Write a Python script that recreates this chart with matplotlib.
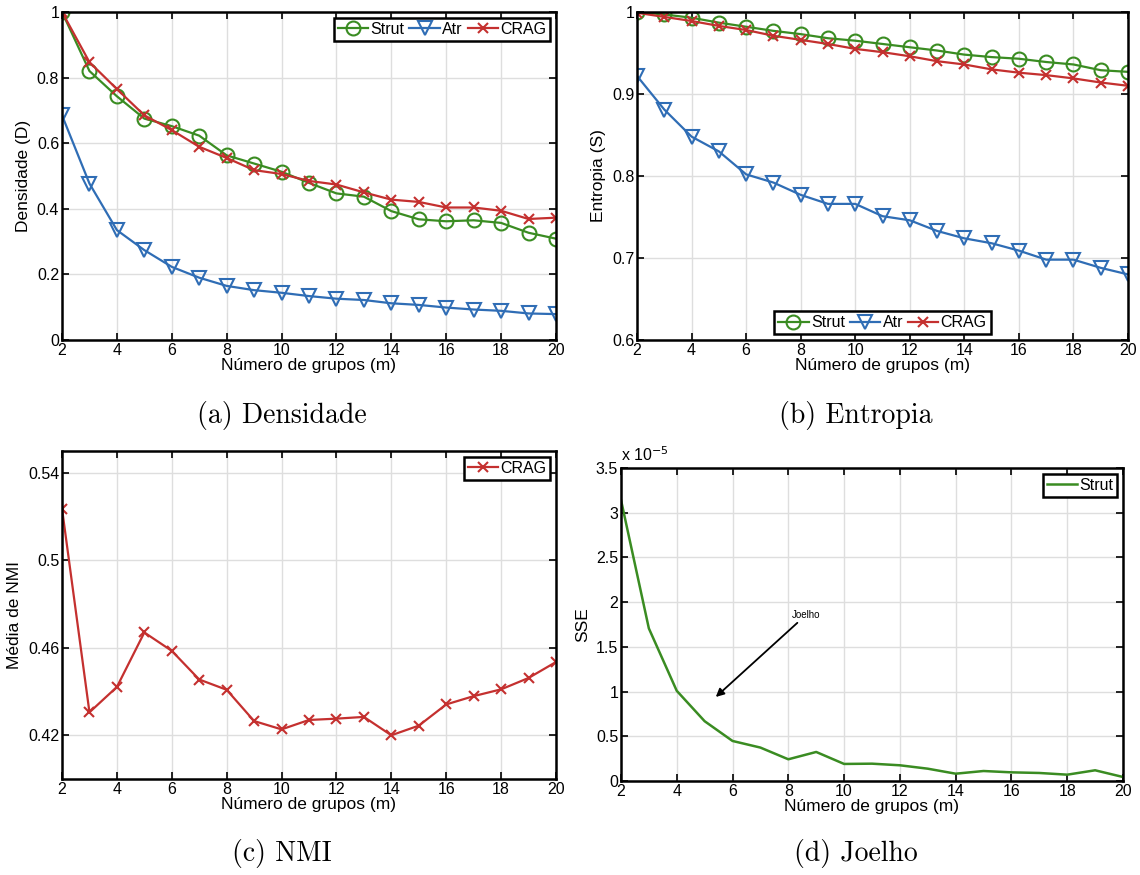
import numpy as np
import matplotlib.pyplot as plt
from matplotlib.ticker import FuncFormatter

plt.rcParams['font.family'] = ['Liberation Sans', 'DejaVu Sans']

m = np.arange(2, 21)

dens_strut = [1.0, 0.820, 0.743, 0.675, 0.652, 0.623, 0.563, 0.538, 0.513, 0.479,
              0.447, 0.437, 0.393, 0.368, 0.362, 0.365, 0.357, 0.327, 0.309]
dens_atr = [0.685, 0.477, 0.335, 0.274, 0.223, 0.190, 0.165, 0.152, 0.144, 0.134,
            0.126, 0.122, 0.112, 0.107, 0.099, 0.093, 0.089, 0.081, 0.079]
dens_crag = [1.0, 0.847, 0.765, 0.685, 0.640, 0.589, 0.555, 0.518, 0.506, 0.485,
             0.474, 0.450, 0.428, 0.421, 0.404, 0.404, 0.394, 0.369, 0.373]

ent_strut = [1.0, 0.997, 0.993, 0.987, 0.982, 0.977, 0.973, 0.968, 0.965, 0.961,
             0.957, 0.953, 0.948, 0.945, 0.943, 0.939, 0.936, 0.929, 0.927]
ent_atr = [0.922, 0.881, 0.848, 0.830, 0.802, 0.792, 0.777, 0.766, 0.766, 0.751,
           0.746, 0.733, 0.724, 0.718, 0.709, 0.698, 0.698, 0.688, 0.680]
ent_crag = [0.999, 0.994, 0.989, 0.983, 0.978, 0.971, 0.966, 0.961, 0.955, 0.951,
            0.946, 0.940, 0.936, 0.930, 0.926, 0.923, 0.919, 0.914, 0.910]

nmi_crag = [0.5236, 0.4305, 0.4421, 0.4670, 0.4586, 0.4455, 0.4408, 0.4265, 0.4227, 0.4270,
            0.4276, 0.4284, 0.4200, 0.4244, 0.4341, 0.4379, 0.4410, 0.4462, 0.4535]

# SSE in units of 1e-5
sse_strut = [3.145, 1.707, 1.009, 0.669, 0.448, 0.374, 0.243, 0.325, 0.191, 0.194,
             0.176, 0.138, 0.082, 0.112, 0.097, 0.090, 0.071, 0.120, 0.045]

GREEN = '#3a8c22'
BLUE = '#2f6db5'
RED = '#c4302f'

fig = plt.figure(figsize=(11.4, 8.75), dpi=100)
ax_a = fig.add_axes([0.0544, 0.6114, 0.4333, 0.3749])
ax_b = fig.add_axes([0.5588, 0.6114, 0.4307, 0.3749])
ax_c = fig.add_axes([0.0544, 0.1097, 0.4333, 0.3749])
ax_d = fig.add_axes([0.5447, 0.1074, 0.4404, 0.3577])


def style(ax):
    ax.set_xlim(2, 20)
    ax.set_xticks(range(2, 21, 2))
    ax.grid(True, color='#dedede', linewidth=1.0)
    ax.set_axisbelow(True)
    ax.tick_params(direction='in', top=True, right=True, length=5, width=1.2,
                   labelsize=11.5, pad=2)
    for s in ax.spines.values():
        s.set_linewidth(1.8)
    ax.set_xlabel('Número de grupos (m)', fontsize=12.5, labelpad=0)


def legend(ax, **kw):
    leg = ax.legend(fontsize=11.5, handlelength=1.9, handletextpad=0.15,
                    columnspacing=0.3, borderpad=0.25, borderaxespad=0.35,
                    fancybox=False, edgecolor='black', framealpha=1, **kw)
    leg.get_frame().set_linewidth(1.8)


line = dict(markerfacecolor='none', markeredgewidth=1.5, linewidth=1.6)

# Densidade
ax_a.plot(m, dens_strut, '-o', color=GREEN, label='Strut', markersize=10, **line)
ax_a.plot(m, dens_atr, '-v', color=BLUE, label='Atr', markersize=10, **line)
ax_a.plot(m, dens_crag, '-x', color=RED, label='CRAG', markersize=7.5, **line)
ax_a.set_ylim(0, 1)
ax_a.set_yticks([0, 0.2, 0.4, 0.6, 0.8, 1])
ax_a.set_yticklabels(['0', '0.2', '0.4', '0.6', '0.8', '1'])
ax_a.set_ylabel('Densidade (D)', fontsize=12.5, labelpad=4)
style(ax_a)
legend(ax_a, loc='upper right', ncol=3)

# Entropia
ax_b.plot(m, ent_strut, '-o', color=GREEN, label='Strut', markersize=10, **line)
ax_b.plot(m, ent_atr, '-v', color=BLUE, label='Atr', markersize=10, **line)
ax_b.plot(m, ent_crag, '-x', color=RED, label='CRAG', markersize=7.5, **line)
ax_b.set_ylim(0.6, 1)
ax_b.set_yticks([0.6, 0.7, 0.8, 0.9, 1])
ax_b.set_yticklabels(['0.6', '0.7', '0.8', '0.9', '1'])
ax_b.set_ylabel('Entropia (S)', fontsize=12.5, labelpad=4)
style(ax_b)
legend(ax_b, loc='lower center', ncol=3)

# NMI
ax_c.plot(m, nmi_crag, '-x', color=RED, label='CRAG', markersize=7.5, **line)
ax_c.set_ylim(0.40, 0.55)
ax_c.set_yticks([0.42, 0.46, 0.50, 0.54])
ax_c.set_yticklabels(['0.42', '0.46', '0.5', '0.54'])
ax_c.set_ylabel('Média de NMI', fontsize=12.5, labelpad=4)
style(ax_c)
legend(ax_c, loc='upper right')

# Joelho (SSE)
sse = np.array(sse_strut) * 1e-5
ax_d.plot(m, sse, '-', color=GREEN, linewidth=1.8, label='Strut')
ax_d.set_ylim(0, 3.5e-5)
ax_d.set_yticks(np.arange(0, 3.51e-5, 0.5e-5))
ax_d.yaxis.set_major_formatter(FuncFormatter(lambda v, p: f'{v * 1e5:g}'))
ax_d.set_ylabel('SSE', fontsize=12.5, labelpad=4)
style(ax_d)
legend(ax_d, loc='upper right')
ax_d.text(0.0, 1.012, r'x 10$^{-5}$', transform=ax_d.transAxes, fontsize=11.5,
          ha='left', va='bottom')
ax_d.annotate('Joelho', xy=(5.4, 0.94e-5), xytext=(8.12, 1.80e-5),
              fontsize=7, ha='left', va='bottom',
              arrowprops=dict(arrowstyle='-|>', color='black', lw=1.3,
                              mutation_scale=12, shrinkA=0, shrinkB=0))

cap = dict(fontsize=20, family='cmr10', ha='center', va='center')
fig.text(282 / 1140, 1 - 416 / 875, '(a) Densidade', **cap)
fig.text(856 / 1140, 1 - 416 / 875, '(b) Entropia', **cap)
fig.text(282 / 1140, 1 - 853 / 875, '(c) NMI', **cap)
fig.text(856 / 1140, 1 - 853 / 875, '(d) Joelho', **cap)

fig.savefig('out.png', dpi=100)
